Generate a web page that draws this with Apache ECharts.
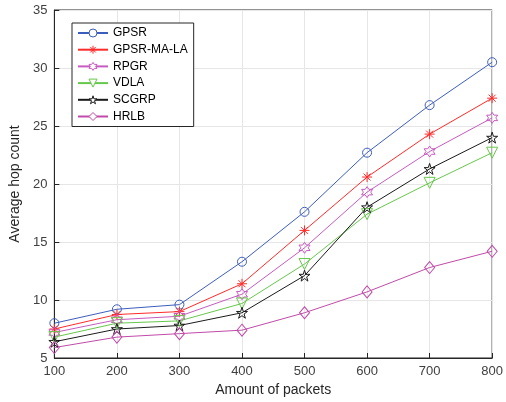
<!DOCTYPE html>
<html>
<head>
<meta charset="utf-8">
<script src="https://cdn.jsdelivr.net/npm/echarts@6/dist/echarts.min.js"></script>
<style>
  html, body { margin: 0; padding: 0; background: #fff; }
  #main { width: 506px; height: 402px; }
</style>
</head>
<body>
<div id="main"></div>
<script>
// data
var packets = [100, 200, 300, 400, 500, 600, 700, 800];
var gpsr    = [8.0, 9.2, 9.6, 13.3, 17.6, 22.7, 26.8, 30.5];
var gpsrMa  = [7.5, 8.75, 9.0, 11.4, 16.0, 20.6, 24.3, 27.4];
var rpgr    = [7.2, 8.3, 8.6, 10.5, 14.5, 19.3, 22.8, 25.7];
var vdla    = [6.8, 8.0, 8.2, 9.7, 13.1, 17.4, 20.1, 22.7];
var scgrp   = [6.4, 7.5, 7.8, 8.9, 12.1, 18.0, 21.3, 24.0];
var hrlb    = [5.9, 6.8, 7.1, 7.4, 8.9, 10.7, 12.8, 14.2];
var yTicks  = [5, 10, 15, 20, 25, 30, 35];

// marker shapes (MATLAB style)
function starPath(n, rIn) {
  var d = '';
  for (var k = 0; k < n * 2; k++) {
    var a = -Math.PI / 2 + k * Math.PI / n;
    var r = k % 2 ? rIn : 1;
    d += (k ? 'L' : 'M') + (r * Math.cos(a)).toFixed(3) + ',' + (r * Math.sin(a)).toFixed(3);
  }
  return 'path://' + d + 'Z';
}
var asterisk = 'path://M0,-1L0,1M-1,0L1,0M-0.7,-0.7L0.7,0.7M-0.7,0.7L0.7,-0.7';
var hexagram = starPath(6, 0.577);
var pentagram = starPath(5, 0.382);
var downTri = 'path://M-1,-0.75L1,-0.75L0,1Z';

var legendItems = [];

function mk(name, data, color, symbol, size) {
  legendItems.push({
    name: name,
    itemStyle: { color: '#fff', borderColor: color, borderWidth: 1 }
  });
  return {
    name: name,
    type: 'line',
    data: packets.map(function (x, i) { return [x, data[i]]; }),
    symbol: symbol,
    symbolSize: size,
    showAllSymbol: true,
    clip: false,
    lineStyle: { color: color, width: 1 },
    itemStyle: { color: 'rgba(0,0,0,0)', borderColor: color, borderWidth: 1 },
    emphasis: { disabled: true }
  };
}

var series = [
  mk('GPSR', gpsr, '#3d5dbd', 'circle', 9),
  mk('GPSR-MA-LA', gpsrMa, '#ff2a2a', asterisk, 10),
  mk('RPGR', rpgr, '#c65bc0', hexagram, 11),
  mk('VDLA', vdla, '#66c84a', downTri, 11),
  mk('SCGRP', scgrp, '#1a1a1a', pentagram, 11),
  mk('HRLB', hrlb, '#c04aa8', 'diamond', [10, 12])
];

var option = {
  animation: false,
  textStyle: { fontFamily: 'Liberation Sans, Arial, sans-serif' },
  grid: {
    left: 53, right: 13, top: 10, bottom: 44,
    show: true, borderColor: '#262626', borderWidth: 1
  },
  legend: {
    orient: 'vertical',
    left: 72, top: 23,
    backgroundColor: '#fff',
    borderColor: '#262626', borderWidth: 1,
    padding: [4, 6, 4, 5],
    itemWidth: 30, itemHeight: 10, itemGap: 4.7,
    textStyle: { fontSize: 12, color: '#000' },
    data: legendItems
  },
  xAxis: {
    type: 'value',
    min: 100, max: 800, interval: 100,
    name: 'Amount of packets',
    nameLocation: 'middle', nameGap: 24,
    nameTextStyle: { fontSize: 14, color: '#262626' },
    axisLine: { lineStyle: { color: '#262626' } },
    axisTick: { inside: true, length: 5, lineStyle: { color: '#262626' } },
    axisLabel: { fontSize: 13, color: '#404040', margin: 7 },
    splitLine: { lineStyle: { color: '#e6e6e6' } }
  },
  yAxis: {
    type: 'value',
    min: yTicks[0], max: yTicks[yTicks.length - 1], interval: 5,
    name: 'Average hop count',
    nameLocation: 'middle', nameGap: 25,
    nameTextStyle: { fontSize: 14, color: '#262626' },
    axisLine: { show: true, lineStyle: { color: '#262626' } },
    axisTick: { show: true, inside: true, length: 5, lineStyle: { color: '#262626' } },
    axisLabel: { fontSize: 13, color: '#404040', margin: 7 },
    splitLine: { lineStyle: { color: '#e6e6e6' } }
  },
  series: series
};

var chart = echarts.init(document.getElementById('main'));
chart.setOption(option);
</script>
</body>
</html>
